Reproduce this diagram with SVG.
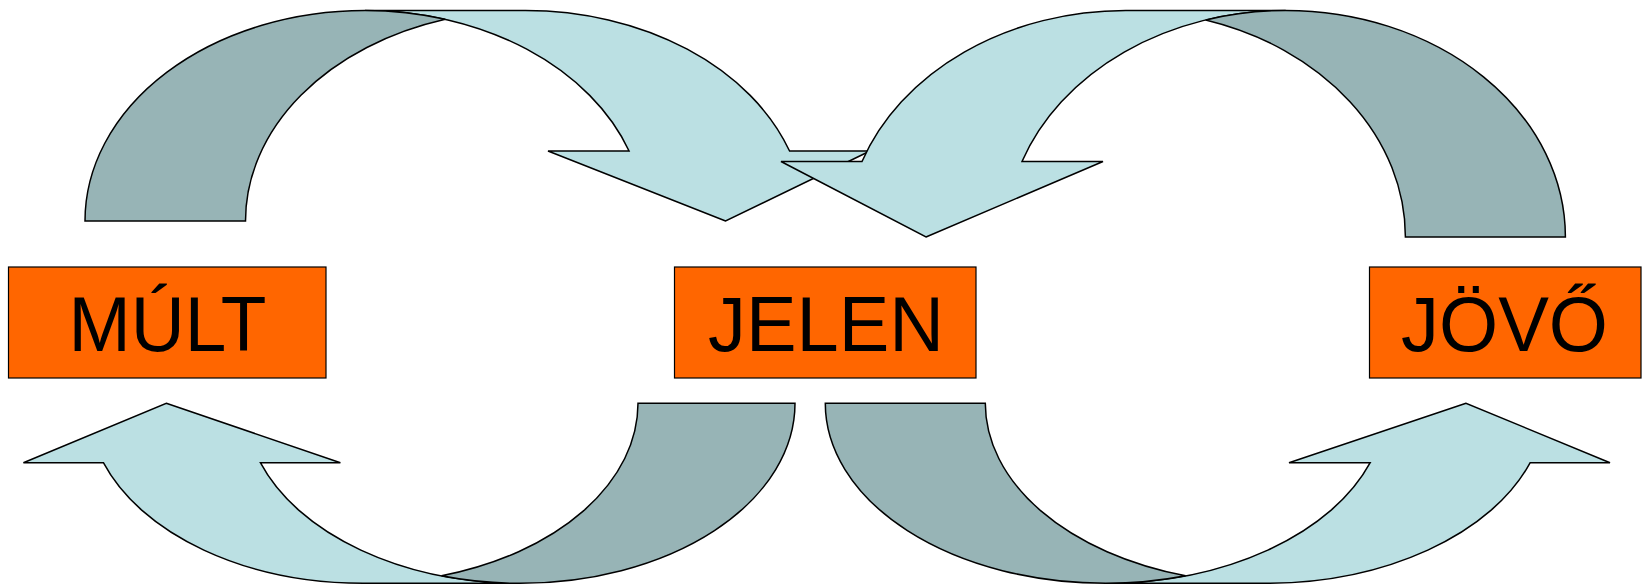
<svg xmlns="http://www.w3.org/2000/svg" width="1644" height="585" viewBox="0 0 1644 585">
<style>
.light{fill:#BBE0E3;stroke:#000;stroke-width:1.5;stroke-linejoin:miter}
.dark{fill:#97B4B6;stroke:#000;stroke-width:1.5;stroke-linejoin:miter}
.box{fill:#FF6600;stroke:#000;stroke-width:1.2}
.lbl{font-family:"Liberation Sans",Arial,sans-serif;font-size:77px;fill:#000}
</style>
<rect width="1644" height="585" fill="#fff"/>
<g id="connectors">
  <g id="arrow-mult-jelen">
    <path class="light" d="M725.6,221 L548,151 L629.07,151 A280,210.5 0 0 0 365,10.5 L525.5,10.5 A280,210.5 0 0 1 789.57,151 L870,151 Z"/>
    <path class="dark" d="M85,221 A280,210.5 0 0 1 365,10.5 A280,210.5 0 0 1 445.25,19.33 A280,210.5 0 0 0 245.5,221 Z"/>
  </g>
  <g id="arrow-jovo-jelen">
    <path class="light" d="M926,237 L1103,161.5 L1022,161.5 A279.7,226.5 0 0 1 1285.7,10.5 L1125.7,10.5 A279.7,226.5 0 0 0 862,161.5 L781,161.5 Z"/>
    <path class="dark" d="M1565.4,237 A279.7,226.5 0 0 0 1285.7,10.5 A279.7,226.5 0 0 0 1205.7,19.96 A279.7,226.5 0 0 1 1405.4,237 Z"/>
  </g>
  <g id="arrow-jelen-mult">
    <path class="light" d="M166.3,403.3 L340.4,462.7 L260.4,462.7 A275,180 0 0 0 520,583.3 L363,583.3 A275,180 0 0 1 103.4,462.7 L23.4,462.7 Z"/>
    <path class="dark" d="M795,403.3 A275,180 0 0 1 520,583.3 A275,180 0 0 1 441.5,575.8 A275,180 0 0 0 638,403.3 Z"/>
  </g>
  <g id="arrow-jelen-jovo">
    <path class="light" d="M1466,403.3 L1289,462.7 L1370.2,462.7 A280.3,180 0 0 1 1105.6,583.3 L1265.6,583.3 A280.3,180 0 0 0 1530.2,462.7 L1610,462.7 Z"/>
    <path class="dark" d="M825.3,403.3 A280.3,180 0 0 0 1105.6,583.3 A280.3,180 0 0 0 1185.6,575.8 A280.3,180 0 0 1 985.3,403.3 Z"/>
  </g>
</g>
<g id="node-mult">
  <rect class="box" x="8.5" y="267" width="317.5" height="111"/>
  <text class="lbl" x="68.5" y="351" textLength="198" lengthAdjust="spacingAndGlyphs">MÚLT</text>
</g>
<g id="node-jelen">
  <rect class="box" x="674.5" y="267" width="301.5" height="111"/>
  <text class="lbl" x="708" y="351" textLength="236" lengthAdjust="spacingAndGlyphs">JELEN</text>
</g>
<g id="node-jovo">
  <rect class="box" x="1369.5" y="267" width="271.5" height="111"/>
  <text class="lbl" x="1401" y="351" textLength="207" lengthAdjust="spacingAndGlyphs">JÖVŐ</text>
</g>
</svg>
